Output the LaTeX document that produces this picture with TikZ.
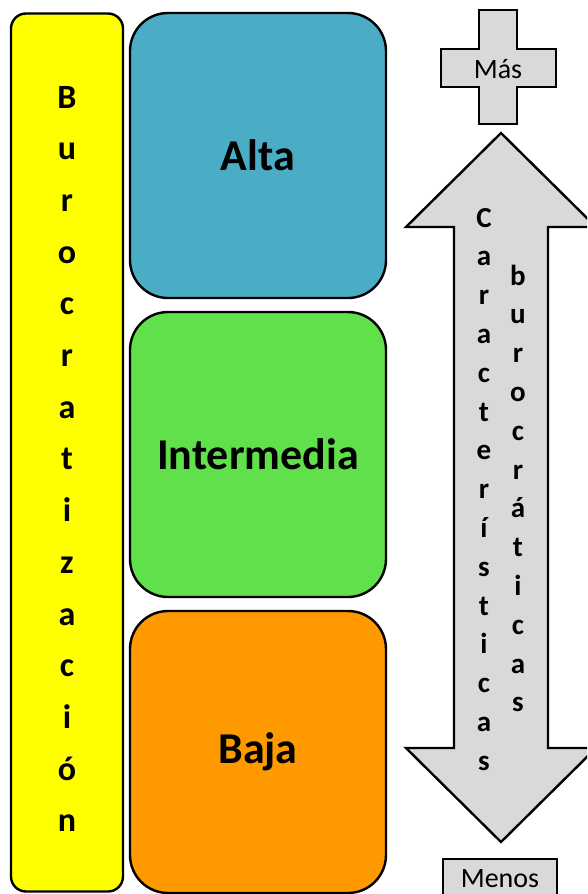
\documentclass[tikz,border=0pt]{standalone}
\usepackage{fontspec}
\setmainfont{Carlito}
\definecolor{barYellow}{RGB}{255,255,0}
\definecolor{altaBlue}{RGB}{75,172,198}
\definecolor{midGreen}{RGB}{96,224,74}
\definecolor{lowOrange}{RGB}{255,153,0}
\definecolor{signGray}{RGB}{217,217,217}
\tikzset{
  outline/.style={draw=black, line width=2.4pt, line join=miter},
  levelbox/.style={outline, rounded corners=38pt, minimum width=256pt,
    inner sep=0pt, font=\bfseries\fontsize{44}{48}\selectfont},
  barletter/.style={anchor=base, inner sep=0pt, font=\bfseries\fontsize{34}{36}\selectfont},
  arrowletter/.style={anchor=base, inner sep=0pt, font=\bfseries\fontsize{29}{32}\selectfont},
  signtext/.style={inner sep=0pt, font=\fontsize{28}{30}\selectfont},
}
\begin{document}
\begin{tikzpicture}[x=1pt, y=-1pt]
  \useasboundingbox (0,0) rectangle (587,894);
  \clip (0,0) rectangle (587,894);
  \fill[white] (0,0) rectangle (587,894);

  % vertical bar on the left
  \node[outline, fill=barYellow, rounded corners=15pt, minimum width=112pt,
        minimum height=878pt, inner sep=0pt] (bar) at (67,452.5) {};
  \foreach \l [count=\i from 0] in {B,u,r,o,c,r,a,t,i,z,a,c,i,ó,n}
    \node[barletter] (bar\i) at (67,{108+51.7*\i}) {\l};

  % the three levels
  \node[levelbox, fill=altaBlue, minimum height=285pt] (alta) at (258,155.5) {Alta};
  \node[levelbox, fill=midGreen, minimum height=285pt] (media) at (258,454.5) {Intermedia};
  \node[levelbox, fill=lowOrange, minimum height=282pt] (baja) at (258,752) {Baja};

  % plus sign with its label
  \draw[outline, fill=signGray]
    (479,10) -- (517,10) -- (517,49) -- (556,49) -- (556,87) -- (517,87)
    -- (517,124) -- (479,124) -- (479,87) -- (441,87) -- (441,49) -- (479,49) -- cycle;
  \node[signtext] (mas) at (498,69) {Más};

  % double-headed arrow
  \draw[outline, fill=signGray]
    (501,133) -- (596,227) -- (548,227) -- (548,748) -- (596,748) -- (501,842)
    -- (406,748) -- (454,748) -- (454,227) -- (406,227) -- cycle;
  \foreach \l [count=\i from 0] in {C,a,r,a,c,t,e,r,í,s,t,i,c,a,s}
    \node[arrowletter] (car\i) at (484,{227+38.8*\i}) {\l};
  \foreach \l [count=\i from 0] in {b,u,r,o,c,r,á,t,i,c,a,s}
    \node[arrowletter] (bur\i) at (518,{285+38.8*\i}) {\l};

  % bottom label box
  \draw[outline, fill=signGray] (443,900) -- (443,859) -- (557,859) -- (557,900);
  \node[signtext] (menos) at (500,879) {Menos};
\end{tikzpicture}
\end{document}
